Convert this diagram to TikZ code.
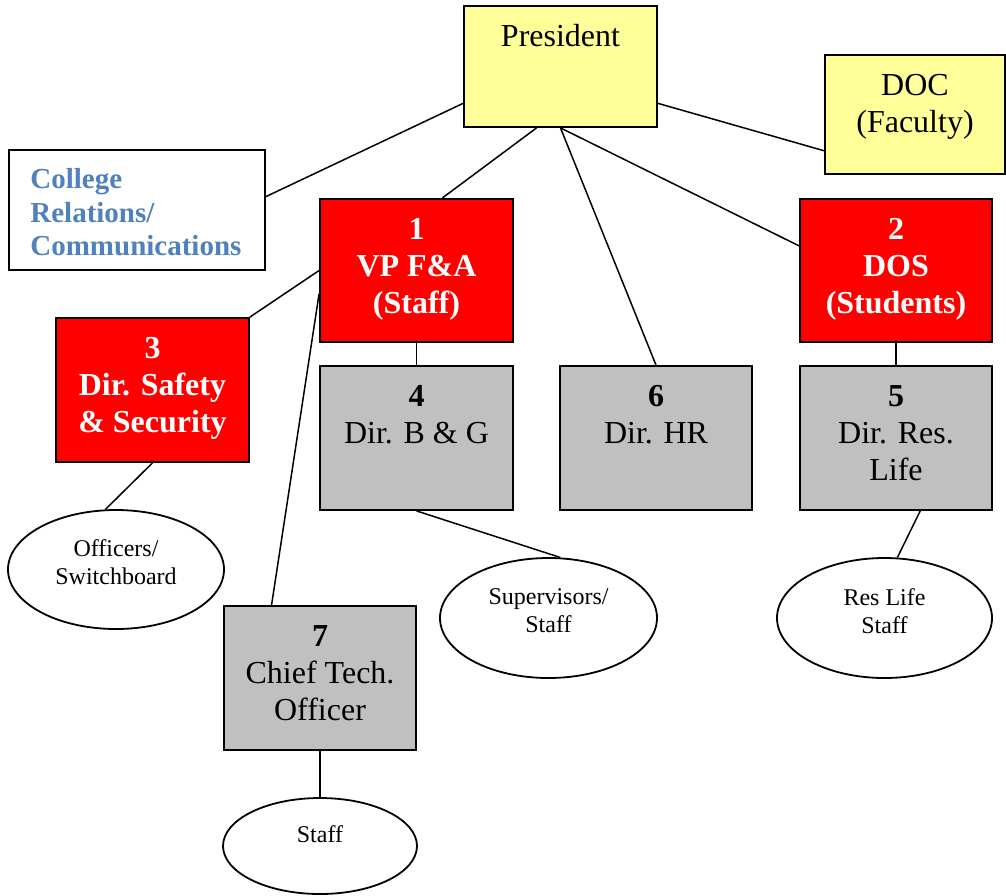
\documentclass[tikz,border=0pt]{standalone}
\usepackage{fontspec}
\setmainfont{Liberation Serif}
\usetikzlibrary{calc,fit,shapes.geometric}
\definecolor{pyellow}{RGB}{255,255,153}
\definecolor{pred}{RGB}{255,0,0}
\definecolor{pgray}{RGB}{192,192,192}
\definecolor{pblue}{RGB}{79,129,189}
\newcommand{\ctext}[1]{\parbox[t]{96pt}{\centering #1}}
\newcommand{\ltext}[1]{\parbox[t]{125pt}{\raggedright #1}}
\begin{document}
\begin{tikzpicture}[x=0.5pt,y=-0.5pt,
  box/.style={draw=black,line width=0.9pt,inner sep=0pt},
  ybox/.style={box,fill=pyellow},
  rbox/.style={box,fill=pred},
  gbox/.style={box,fill=pgray},
  wbox/.style={box,fill=white},
  oval/.style={draw=black,line width=0.9pt,ellipse,inner sep=0pt,fill=white},
  big/.style={inner sep=0pt,anchor=base,font=\fontsize{16}{18.5}\selectfont},
  bigw/.style={inner sep=0pt,anchor=base,text=white,font=\fontsize{16}{18.5}\selectfont\bfseries},
  small/.style={inner sep=0pt,anchor=base,font=\fontsize{12}{14}\selectfont},
  link/.style={draw=black,line width=0.75pt}]
\useasboundingbox (0,0) rectangle (1006,895);

% boxes
\node[ybox,fit={(464,6)(657,127)}] (pres) {};
\node[ybox,fit={(825,55)(1005,174)}] (doc) {};
\node[wbox,fit={(9,150)(265,270)}] (col) {};
\node[rbox,fit={(320,199)(513,342)}] (b1) {};
\node[rbox,fit={(800,199)(992,342)}] (b2) {};
\node[rbox,fit={(56,318)(249,462)}] (b3) {};
\node[gbox,fit={(320,366)(513,510)}] (b4) {};
\node[gbox,fit={(560,366)(752,510)}] (b6) {};
\node[gbox,fit={(800,366)(992,510)}] (b5) {};
\node[gbox,fit={(224,606)(416,750)}] (b7) {};

% ellipses
\node[oval,minimum width=108pt,minimum height=59.5pt] (e3) at (116,569.5) {};
\node[oval,minimum width=108.5pt,minimum height=60pt] (e4) at (548.5,618) {};
\node[oval,minimum width=107.5pt,minimum height=60pt] (e5) at (884.5,618) {};
\node[oval,minimum width=97pt,minimum height=48pt] (e7) at (320,846) {};

% texts
\node[big] (pres-t) at ($(pres.north)+(0,41)$) {\ctext{President}};
\node[big] (doc-t) at ($(doc.north)+(0,41)$) {\ctext{DOC\\(Faculty)}};
\node[inner sep=0pt,anchor=base west,text=pblue,font=\fontsize{14.5}{16.75}\selectfont\bfseries] (col-t) at (30,188.5) {\ltext{College\\Relations/\\Communications}};
\node[bigw] (b1-t) at ($(b1.north)+(0,41)$) {\ctext{1\\VP F\&A\\(Staff)}};
\node[bigw] (b2-t) at ($(b2.north)+(0,41)$) {\ctext{2\\DOS\\(Students)}};
\node[bigw] (b3-t) at ($(b3.north)+(0,41)$) {\ctext{3\\Dir. Safety\\\& Security}};
\node[big] (b4-t) at ($(b4.north)+(0,41)$) {\ctext{\textbf{4}\\Dir. B \& G}};
\node[big] (b6-t) at ($(b6.north)+(0,41)$) {\ctext{\textbf{6}\\Dir. HR}};
\node[big] (b5-t) at ($(b5.north)+(0,41)$) {\ctext{\textbf{5}\\Dir. Res.\\Life}};
\node[big] (b7-t) at ($(b7.north)+(0,41)$) {\ctext{\textbf{7}\\Chief Tech.\\Officer}};
\node[small] (e3-t) at ($(e3.north)+(0,47)$) {\ctext{Officers/\\Switchboard}};
\node[small] (e4-t) at ($(e4.north)+(0,47)$) {\ctext{Supervisors/\\Staff}};
\node[small] (e5-t) at ($(e5.north)+(0,48)$) {\ctext{Res Life\\Staff}};
\node[small] (e7-t) at ($(e7.north)+(0,45)$) {\ctext{Staff}};

% connectors
\draw[link] ($(pres.north west)!0.8!(pres.south west)$) -- ($(col.north east)!0.39!(col.south east)$);
\draw[link] ($(pres.north east)!0.8!(pres.south east)$) -- ($(doc.north west)!0.8!(doc.south west)$);
\draw[link] ($(pres.south west)!0.377!(pres.south east)$) -- ($(b1.north west)!0.632!(b1.north east)$);
\draw[link] (pres.south) -- (b6.north);
\draw[link] (pres.south) -- ($(b2.north west)!0.33!(b2.south west)$);
\draw[link] (b1.west) -- (b3.north east);
\draw[link] ($(b1.north west)!0.66!(b1.south west)$) -- ($(b7.north west)!0.25!(b7.north east)$);
\draw[link] (b1.south) -- (b4.north);
\draw[link] (b2.south) -- (b5.north);
\draw[link] (b3.south) -- (e3.100.6);
\draw[link] (b4.south) -- (e4.79.2);
\draw[link] ($(b5.south west)!0.625!(b5.south east)$) -- (e5.78.5);
\draw[link] (b7.south) -- (e7.north);
\end{tikzpicture}
\end{document}
